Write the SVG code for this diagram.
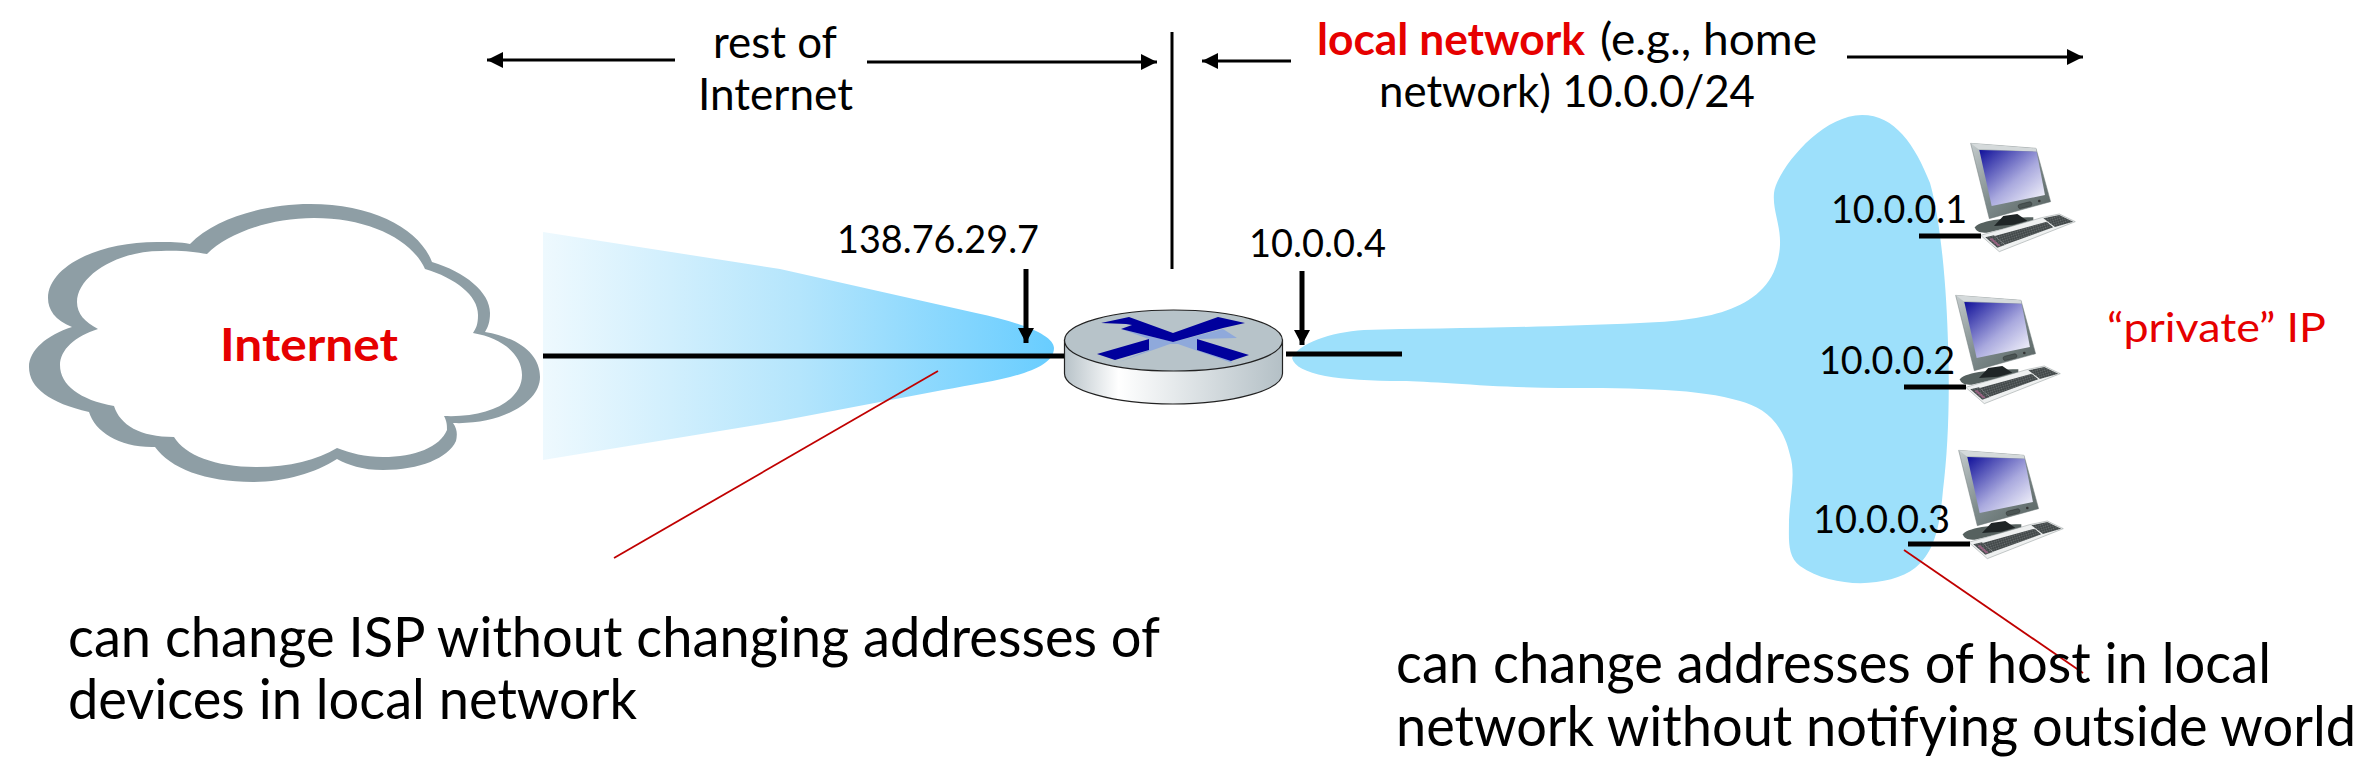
<svg xmlns="http://www.w3.org/2000/svg" xmlns:xlink="http://www.w3.org/1999/xlink" width="2377" height="773" viewBox="0 0 2377 773">
  <style>
    text { font-family: "Lato", "Carlito", "Liberation Sans", sans-serif; fill: #000; }
    .lbl { font-size: 38px; }
    .head { font-size: 44px; }
    .big { font-size: 56px; }
    .red { fill: #e60000; }
    .bold { font-weight: 700; }
    .wire { stroke: #000; stroke-width: 5; fill: none; }
    .thin { stroke: #000; stroke-width: 3; fill: none; }
    .note { stroke: #c00000; stroke-width: 1.8; fill: none; }
  </style>
  <defs>
    <linearGradient id="wedgeFill" gradientUnits="userSpaceOnUse" x1="543" y1="0" x2="1054" y2="0">
      <stop offset="0" stop-color="#eef9fe"/>
      <stop offset="0.5" stop-color="#b4e5fc"/>
      <stop offset="1" stop-color="#68cdff"/>
    </linearGradient>
    <linearGradient id="routerSide" gradientUnits="userSpaceOnUse" x1="1064" y1="0" x2="1282" y2="0">
      <stop offset="0" stop-color="#b7c2c8"/>
      <stop offset="0.25" stop-color="#ffffff"/>
      <stop offset="1" stop-color="#b4c0c6"/>
    </linearGradient>
    <linearGradient id="screenFill" x1="0" y1="0" x2="1" y2="1">
      <stop offset="0" stop-color="#10109a"/>
      <stop offset="0.55" stop-color="#a9a9de"/>
      <stop offset="1" stop-color="#ffffff"/>
    </linearGradient>
    <linearGradient id="bezel" x1="0" y1="0" x2="1" y2="1">
      <stop offset="0" stop-color="#c4cbcc"/>
      <stop offset="0.5" stop-color="#7f8c8d"/>
      <stop offset="1" stop-color="#56615f"/>
    </linearGradient>
    <pattern id="keys" patternUnits="userSpaceOnUse" width="7" height="7" patternTransform="rotate(-17)">
      <rect width="7" height="7" fill="#2f3435"/>
      <rect x="1" y="1" width="5" height="5" fill="#6a7071"/>
    </pattern>
    <marker id="tip" markerUnits="userSpaceOnUse" markerWidth="18" markerHeight="18" refX="16" refY="8" orient="auto">
      <path d="M0 0L16 8L0 16Z" fill="#000"/>
    </marker>
    <marker id="tipDown" markerUnits="userSpaceOnUse" markerWidth="18" markerHeight="18" refX="15" refY="8" orient="auto">
      <path d="M0 0L15 8L0 16Z" fill="#000"/>
    </marker>
    <!-- desktop computer, drawn at 3x and scaled down where it is placed -->
    <g id="pc">
      <path d="M705 352C712 335 790 322 880 322L880 335L740 368C722 370 706 364 705 352Z" fill="#56615f"/>
      <path d="M762 348L790 318L832 312L862 332L820 344Z" fill="#1f2526"/>
      <path d="M692 100L888 115L932 275L748 326Z" fill="url(#bezel)" stroke="#6f7a7a" stroke-width="1.5"/>
      <path d="M692 100L888 115L890 125L715 117Z" fill="#d5dadb"/>
      <path d="M718 120L890 125L915 255L755 288Z" fill="url(#screenFill)"/>
      <rect x="834" y="279" width="42" height="13" rx="6" transform="rotate(-14 855 285)" fill="#4a5453" stroke="#222" stroke-width="1"/>
      <circle cx="898" cy="273" r="4" fill="#333"/>
      <path d="M722 376L905 323L958 312L1006 335L778 425Z" fill="#eef0f0" stroke="#8d9696" stroke-width="1.5"/>
      <path d="M764 378L920 335L940 352L795 404Z" fill="url(#keys)"/>
      <path d="M910 325L958 315L1000 335L945 351Z" fill="url(#keys)"/>
      <path d="M736 382L762 376L795 405L772 413Z" fill="url(#keys)"/>
      <path d="M748 386L756 384L782 407L774 409Z" fill="#c46d9c" opacity=".6"/>
    </g>
  </defs>

  <g id="lan-region">
    <path d="M1292 358C1298 344 1330 332 1364 330C1440 328 1530 328 1640 323C1690 321 1762 316 1777 263C1786 232 1772 215 1774 193C1776 172 1820 115 1862 115C1895 115 1915 145 1930 183C1942 225 1947 300 1948 343C1950 400 1948 450 1943 490C1940 525 1935 552 1915 568C1890 587 1835 590 1800 566C1787 556 1789 540 1789 520C1790 495 1796 475 1790 455C1782 420 1762 407 1740 401C1700 389 1640 388 1560 388C1500 388 1430 381 1402 381C1340 381 1296 375 1292 358Z" fill="#9de0fb"/>
  </g>

  <g id="wan-region">
    <path d="M543 232L780 269L976 313C1020 322 1054 335 1054 348C1054 372 1000 380 943 390L780 421L543 460Z" fill="url(#wedgeFill)"/>
  </g>

  <g id="internet-cloud">
    <path d="M190 244C215 218 265 204 310 204C375 204 420 230 432 262C465 272 490 292 490 313C490 322 488 327 485 332C520 338 540 355 540 377C540 403 500 425 453 423C458 430 457 436 456 441C448 458 420 470 383 470C362 470 348 465 337 459C315 473 285 482 253 482C205 482 170 468 155 447C120 448 95 432 89 412C50 403 29 388 29 367C29 350 47 335 72 327C55 320 48 310 48 298C48 268 95 242 157 242C170 242 180 242 190 244Z" fill="#8e9ea5"/>
    <path d="M207 254C228 233 270 218 314 218C370 218 412 240 425 269C455 278 478 295 478 315C478 325 476 328 473 333C503 338 522 355 522 375C522 400 490 418 444 416C447 422 447 425 447 430C440 447 415 457 383 457C365 457 350 453 337 448C317 460 290 467 256 467C215 467 185 455 174 437C140 437 120 425 114 406C80 400 60 385 60 365C60 350 75 336 98 329C85 322 77 314 77 302C77 277 115 251 161 251C180 250 195 252 207 254Z" fill="#fff"/>
    <text class="bold red" x="220" y="361" font-size="46" textLength="178" lengthAdjust="spacingAndGlyphs">Internet</text>
  </g>

  <g id="router">
    <path d="M1064.500 340V373.500C1064.500 390 1113 404 1173 404C1233 404 1282.500 390 1282.500 373.500V340Z" fill="url(#routerSide)" stroke="#222" stroke-width="1.200"/>
    <ellipse cx="1173.500" cy="340.500" rx="109" ry="30.500" fill="#b7c3c9" stroke="#222" stroke-width="1.200"/>
    <path d="M1121 329L1173 342L1223 329L1237 338L1197 339L1197 350L1231 361L1232 363L1178 344L1170 344L1119 362L1149 350L1149 339Z" fill="#8fa9db"/>
    <path d="M1101 323L1129 317L1173 333L1218 317L1245 323L1223 328L1173 342L1121 329L1132 325L1126 324Z" fill="#00009c"/>
    <path d="M1097 354L1149 339L1149 350L1115 360Z" fill="#00009c"/>
    <path d="M1197 339L1249 355L1231 361L1197 350Z" fill="#00009c"/>
  </g>

  <g id="host-1"><use xlink:href="#pc" transform="translate(1740 110) scale(.3333)"/></g>
  <g id="host-2"><use xlink:href="#pc" transform="translate(1725 262) scale(.3333)"/></g>
  <g id="host-3"><use xlink:href="#pc" transform="translate(1728 417) scale(.3333)"/></g>

  <g id="connectors">
    <line class="wire" x1="543" y1="356" x2="1064" y2="356"/>
    <line class="wire" x1="1286" y1="354" x2="1402" y2="354"/>
    <line class="wire" x1="1919" y1="236" x2="1981" y2="236"/>
    <line class="wire" x1="1904" y1="387" x2="1966" y2="387"/>
    <line class="wire" x1="1908" y1="544" x2="1970" y2="544"/>
    <line class="thin" x1="1172" y1="32" x2="1172" y2="269"/>
    <line class="wire" x1="1026" y1="269" x2="1026" y2="343" marker-end="url(#tipDown)"/>
    <line class="wire" x1="1302" y1="271" x2="1302" y2="345" marker-end="url(#tipDown)"/>
    <line class="thin" x1="675" y1="60" x2="487" y2="60" marker-end="url(#tip)"/>
    <line class="thin" x1="867" y1="62" x2="1157" y2="62" marker-end="url(#tip)"/>
    <line class="thin" x1="1291" y1="61" x2="1202" y2="61" marker-end="url(#tip)"/>
    <line class="thin" x1="1847" y1="57" x2="2083" y2="57" marker-end="url(#tip)"/>
    <line class="note" x1="938" y1="371" x2="614" y2="558"/>
    <line class="note" x1="1904" y1="550" x2="2083" y2="673"/>
  </g>

  <g id="labels">
    <text class="head" x="713" y="58" textLength="124" lengthAdjust="spacingAndGlyphs">rest of</text>
    <text class="head" x="698" y="110" textLength="155" lengthAdjust="spacingAndGlyphs">Internet</text>
    <text class="head bold red" x="1317" y="55" textLength="268" lengthAdjust="spacingAndGlyphs">local network</text>
    <text class="head" x="1600" y="55" textLength="217" lengthAdjust="spacingAndGlyphs">(e.g., home</text>
    <text class="head" x="1379" y="107" textLength="376" lengthAdjust="spacingAndGlyphs">network) 10.0.0/24</text>
    <text class="lbl" x="837" y="253" textLength="202" lengthAdjust="spacingAndGlyphs">138.76.29.7</text>
    <text class="lbl" x="1249" y="257" textLength="137" lengthAdjust="spacingAndGlyphs">10.0.0.4</text>
    <text class="lbl" x="1831" y="223" textLength="136" lengthAdjust="spacingAndGlyphs">10.0.0.1</text>
    <text class="lbl" x="1819" y="374" textLength="136" lengthAdjust="spacingAndGlyphs">10.0.0.2</text>
    <text class="lbl" x="1813" y="533" textLength="137" lengthAdjust="spacingAndGlyphs">10.0.0.3</text>
    <text class="red" font-size="40" x="2107" y="342" textLength="219" lengthAdjust="spacingAndGlyphs">“private” IP</text>
    <text class="big" x="68" y="657" textLength="1092" lengthAdjust="spacingAndGlyphs">can change ISP without changing addresses of</text>
    <text class="big" x="68" y="719" textLength="569" lengthAdjust="spacingAndGlyphs">devices in local network</text>
    <text class="big" x="1396" y="683" textLength="875" lengthAdjust="spacingAndGlyphs">can change addresses of host in local</text>
    <text class="big" x="1396" y="746" textLength="960" lengthAdjust="spacingAndGlyphs">network without notifying outside world</text>
  </g>
</svg>
